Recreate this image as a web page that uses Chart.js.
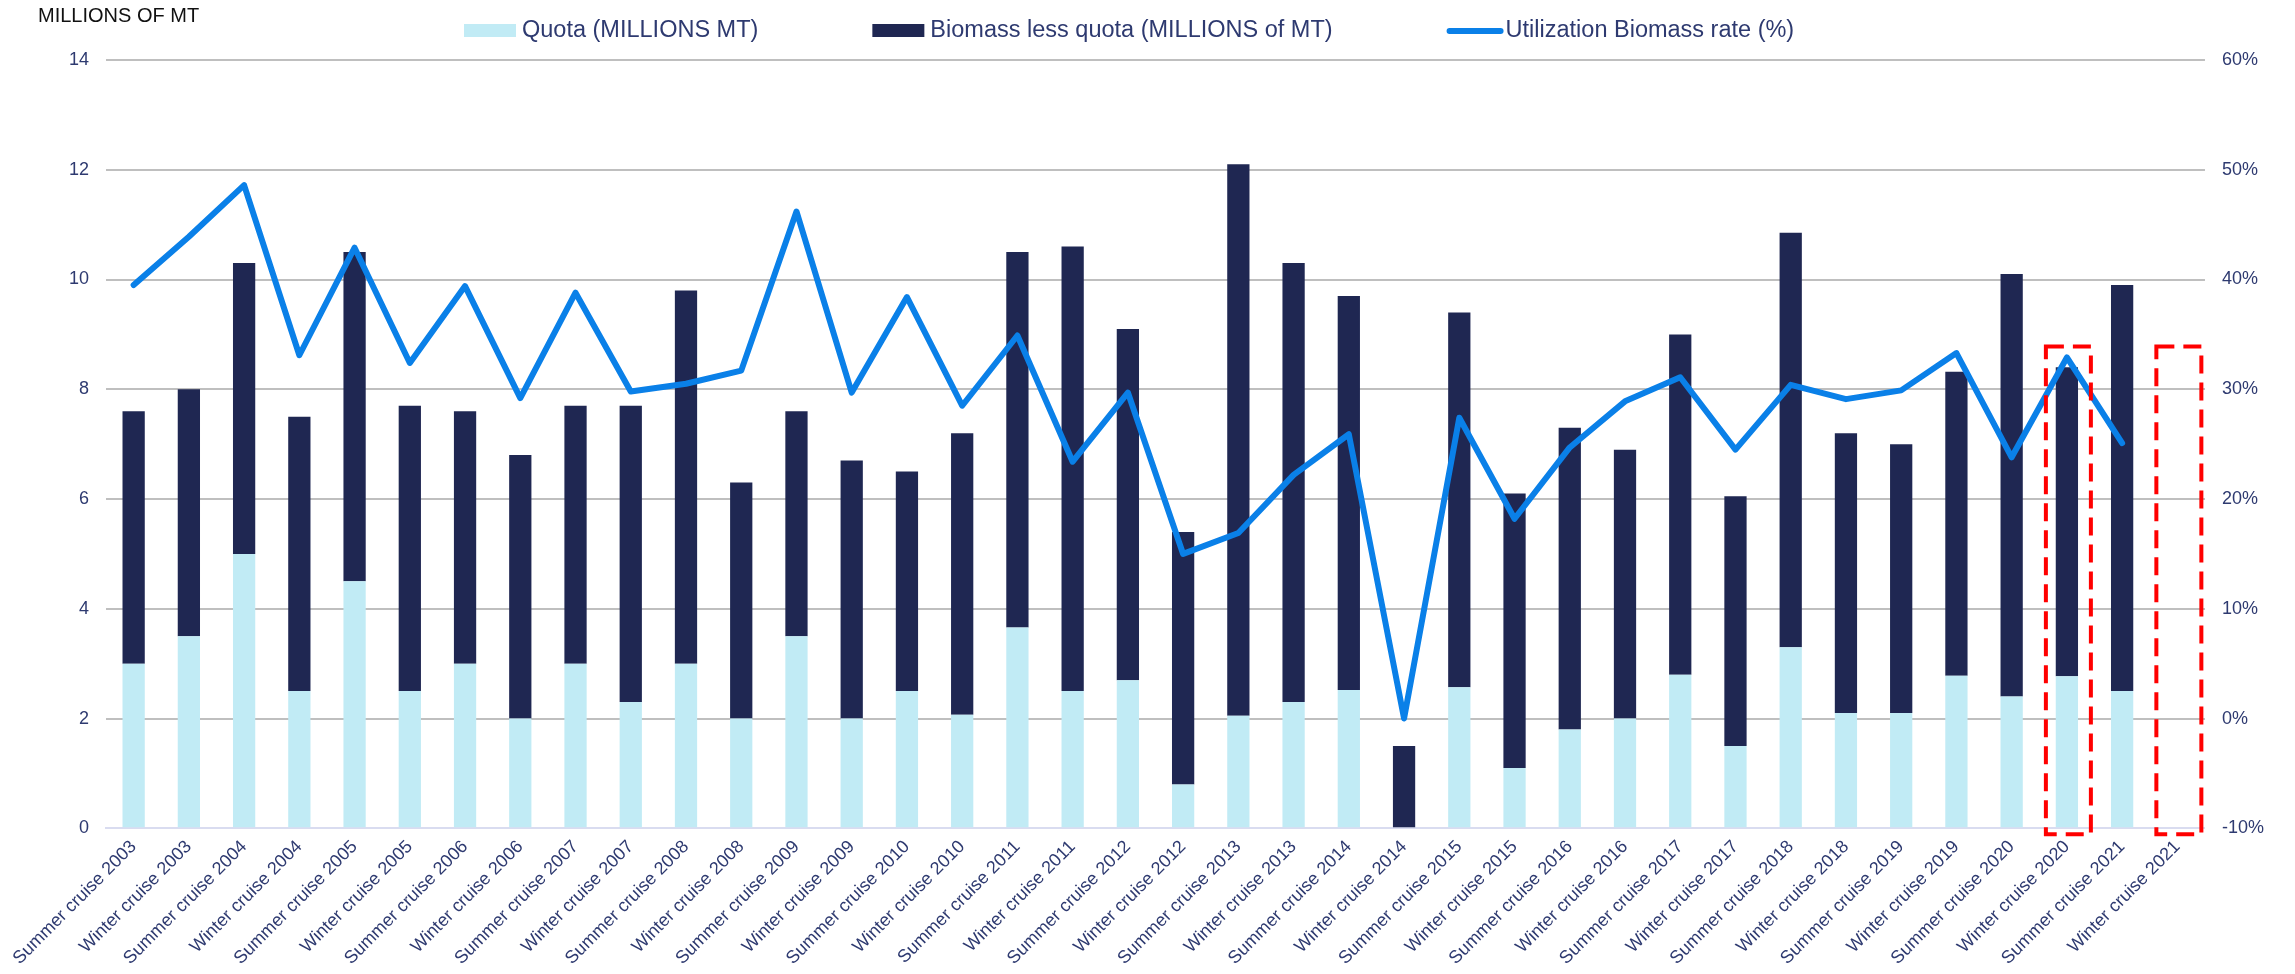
<!DOCTYPE html>
<html lang="en">
<head>
<meta charset="UTF-8">
<title>Biomass and quota</title>
<script src="https://cdn.jsdelivr.net/npm/chart.js"></script>
<style>
  body { margin: 0; background: #fff; }
  #wrap { width: 2295px; height: 974px; }
</style>
</head>
<body>
<div id="wrap"><canvas id="chart" width="2295" height="974"></canvas></div>
<script>
const cruises = [
  'Summer cruise 2003', 'Winter cruise 2003', 'Summer cruise 2004', 'Winter cruise 2004',
  'Summer cruise 2005', 'Winter cruise 2005', 'Summer cruise 2006', 'Winter cruise 2006',
  'Summer cruise 2007', 'Winter cruise 2007', 'Summer cruise 2008', 'Winter cruise 2008',
  'Summer cruise 2009', 'Winter cruise 2009', 'Summer cruise 2010', 'Winter cruise 2010',
  'Summer cruise 2011', 'Winter cruise 2011', 'Summer cruise 2012', 'Winter cruise 2012',
  'Summer cruise 2013', 'Winter cruise 2013', 'Summer cruise 2014', 'Winter cruise 2014',
  'Summer cruise 2015', 'Winter cruise 2015', 'Summer cruise 2016', 'Winter cruise 2016',
  'Summer cruise 2017', 'Winter cruise 2017', 'Summer cruise 2018', 'Winter cruise 2018',
  'Summer cruise 2019', 'Winter cruise 2019', 'Summer cruise 2020', 'Winter cruise 2020',
  'Summer cruise 2021', 'Winter cruise 2021'
];

// millions of MT
const quota = [
  3.0, 3.5, 5.0, 2.5, 4.5, 2.5, 3.0, 2.0, 3.0, 2.3, 3.0, 2.0,
  3.5, 2.0, 2.5, 2.07, 3.66, 2.5, 2.7, 0.8, 2.05, 2.3, 2.52, 0,
  2.57, 1.1, 1.8, 2.0, 2.8, 1.5, 3.3, 2.1, 2.1, 2.78, 2.4, 2.77,
  2.5, null
];
const biomassLessQuota = [
  4.6, 4.5, 5.3, 5.0, 6.0, 5.2, 4.6, 4.8, 4.7, 5.4, 6.8, 4.3,
  4.1, 4.7, 4.0, 5.13, 6.84, 8.1, 6.4, 4.6, 10.05, 8.0, 7.18, 1.5,
  6.83, 5.0, 5.5, 4.9, 6.2, 4.55, 7.55, 5.1, 4.9, 5.54, 7.7, 5.63,
  7.4, null
];
// percent
const utilization = [
  39.5, 43.9, 48.6, 33.1, 42.9, 32.4, 39.4, 29.2, 38.8, 29.8, 30.5, 31.7,
  46.2, 29.7, 38.4, 28.5, 34.9, 23.4, 29.7, 15.0, 16.9, 22.2, 25.9, 0,
  27.4, 18.2, 24.7, 28.9, 31.1, 24.5, 30.4, 29.1, 29.9, 33.3, 23.8, 32.9,
  25.1, null
];

const highlighted = ['Winter cruise 2020', 'Winter cruise 2021'];

const navy = '#2E3A70';
const tickFont = { family: 'Liberation Sans, Arial, sans-serif', size: 18 };

// title, legend row and red dashed boxes
const extras = {
  id: 'extras',
  afterDatasetsDraw(chart) {
    const ctx = chart.ctx;
    const x = chart.scales.x, y = chart.scales.y;
    ctx.save();
    ctx.strokeStyle = '#FF0000';
    ctx.lineWidth = 4;
    ctx.setLineDash([18, 9]);
    highlighted.forEach(name => {
      const cx = x.getPixelForValue(cruises.indexOf(name)) + 1;
      const top = y.getPixelForValue(8.78);
      const bottom = chart.chartArea.bottom + 6;
      ctx.strokeRect(cx - 22, top, 45, bottom - top);
    });
    ctx.restore();
  },
  afterDraw(chart) {
    const ctx = chart.ctx;
    ctx.save();
    ctx.fillStyle = '#111';
    ctx.font = '20px Liberation Sans, Arial, sans-serif';
    ctx.textBaseline = 'middle';
    ctx.fillText('MILLIONS OF MT', 38, 16);

    ctx.font = '23.5px Liberation Sans, Arial, sans-serif';
    let lx = 464;
    const ly = 31;
    chart.data.datasets.forEach(ds => {
      if (ds.type === 'line') {
        ctx.strokeStyle = ds.borderColor;
        ctx.lineWidth = 6;
        ctx.lineCap = 'round';
        ctx.beginPath();
        ctx.moveTo(lx + 3, ly);
        ctx.lineTo(lx + 54, ly);
        ctx.stroke();
        lx += 59;
      } else {
        ctx.fillStyle = ds.backgroundColor;
        ctx.fillRect(lx, ly - 7, 52, 13);
        lx += 58;
      }
      ctx.fillStyle = navy;
      ctx.fillText(ds.label, lx, ly);
      lx += ctx.measureText(ds.label).width + 114;
    });
    ctx.restore();
  }
};

new Chart(document.getElementById('chart'), {
  data: {
    labels: cruises,
    datasets: [
      {
        type: 'bar',
        label: 'Quota (MILLIONS MT)',
        data: quota,
        backgroundColor: '#C1EBF5',
        yAxisID: 'y',
        order: 2
      },
      {
        type: 'bar',
        label: 'Biomass less quota (MILLIONS of MT)',
        data: biomassLessQuota,
        backgroundColor: '#1F2752',
        yAxisID: 'y',
        order: 2
      },
      {
        type: 'line',
        label: 'Utilization Biomass rate (%)',
        data: utilization,
        borderColor: '#0A80E8',
        backgroundColor: '#0A80E8',
        borderWidth: 6,
        pointRadius: 0,
        tension: 0,
        borderJoinStyle: 'round',
        borderCapStyle: 'round',
        yAxisID: 'y1',
        order: 1
      }
    ]
  },
  options: {
    responsive: false,
    animation: false,
    layout: { padding: { top: 60, left: 52, right: 14, bottom: 5 } },
    datasets: { bar: { barPercentage: 0.403, categoryPercentage: 1.0 } },
    plugins: {
      legend: { display: false },
      tooltip: { enabled: false }
    },
    scales: {
      x: {
        stacked: true,
        grid: { display: false },
        border: { color: '#D9DCF0', width: 2 },
        ticks: {
          color: navy,
          font: tickFont,
          autoSkip: false,
          minRotation: 45,
          maxRotation: 45,
          padding: 0
        }
      },
      y: {
        stacked: true,
        position: 'left',
        min: 0,
        max: 14,
        grid: { color: '#BFBFBF', lineWidth: 2, drawTicks: false },
        border: { display: false },
        ticks: { stepSize: 2, color: navy, font: tickFont, padding: 17 }
      },
      y1: {
        position: 'right',
        min: -10,
        max: 60,
        grid: { display: false, drawTicks: false },
        border: { display: false },
        ticks: {
          stepSize: 10,
          color: navy,
          font: tickFont,
          padding: 17,
          callback: v => v + '%'
        }
      }
    }
  },
  plugins: [extras]
});
</script>
</body>
</html>
